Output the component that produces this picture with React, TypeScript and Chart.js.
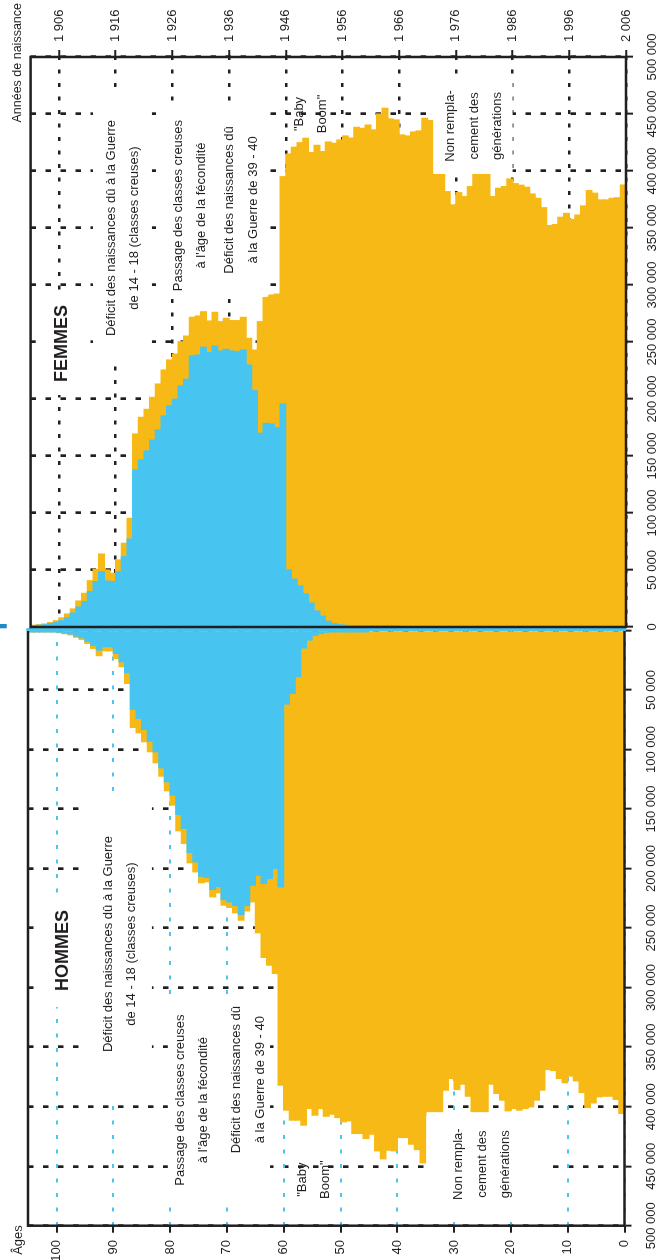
import React, { useEffect, useRef } from 'react';
import { Chart, registerables } from 'chart.js';

Chart.register(...registerables);

// ---------- data ----------
const AGES: number[] = Array.from({ length: 105 }, (_, i) => i);

const HOMMES_TOTAL: number[] = [
  405700, 393900, 391200, 391200, 391700, 396800, 400700, 388100, 378300, 374300,
  379900, 376300, 369600, 368700, 386100, 394500, 400100, 401500, 402900, 401500,
  403500, 394500, 388900, 381100, 407000, 407000, 407000, 391200, 381100, 385600,
  376300, 386100, 407000, 407000, 407000, 447200, 436000, 431500, 425900, 425900,
  437100, 436500, 443800, 437100, 423100, 426700, 422500, 422500, 411900, 412700,
  409100, 406300, 408000, 401500, 407100, 401500, 415500, 411300, 411300, 402900,
  381900, 288100, 281100, 274600, 253900, 227900, 235500, 243300, 237100, 232600,
  230700, 220300, 223700, 211100, 211900, 202700, 195100, 178800, 168200, 146600,
  134600, 122300, 111100, 101800, 93400, 85900, 81400, 44400, 30400, 23400,
  17000, 17000, 21100, 15000, 10800, 7400, 5700, 3600, 2600, 1800,
  1100, 700, 400, 250, 150,
];

const HOMMES_BLEU: number[] = [
  0, 0, 0, 0, 0, 0, 0, 0, 0, 0,
  0, 0, 0, 0, 0, 0, 0, 0, 0, 0,
  0, 0, 0, 0, 0, 0, 0, 0, 0, 0,
  0, 0, 0, 0, 0, 0, 0, 0, 0, 0,
  0, 0, 0, 0, 0, 300, 300, 400, 500, 600,
  800, 1000, 1500, 2500, 4000, 8000, 14700, 38800, 52800, 61800,
  215300, 199800, 208300, 212500, 205500, 213900, 231000, 238500, 231000, 228000,
  226000, 215000, 217500, 207400, 206300, 194300, 186400, 166200, 154500, 138200,
  127000, 115300, 101800, 92900, 83100, 73800, 66200, 35400, 26200, 19200,
  13500, 13600, 16400, 12400, 8900, 6000, 4600, 2900, 2100, 1450,
  900, 580, 330, 200, 120,
];

const FEMMES_TOTAL: number[] = [
  387700, 376500, 376000, 374600, 374600, 380500, 382800, 369300, 361300, 357500,
  362800, 359400, 353000, 352100, 367800, 376000, 379800, 385700, 387500, 388900,
  393000, 386300, 384800, 377500, 400000, 400000, 400000, 386300, 377500, 381000,
  370200, 381900, 400000, 400000, 444200, 446200, 435100, 434200, 430700, 431600,
  444800, 445600, 455000, 450000, 436000, 440300, 437400, 438300, 428900, 430700,
  427200, 424300, 425400, 417000, 422500, 416100, 428700, 424800, 420800, 414900,
  395000, 292000, 291200, 289200, 267800, 242900, 253200, 271600, 268700, 268700,
  270700, 267800, 276000, 268400, 276500, 272800, 271600, 255200, 250200, 239400,
  234200, 225400, 213100, 201400, 190900, 183900, 169300, 95300, 73400, 58800,
  47100, 50000, 64000, 50600, 40600, 29500, 22800, 15800, 11400, 8000,
  5500, 3800, 2600, 2000, 1500,
];

const FEMMES_BLEU: number[] = [
  0, 0, 0, 0, 0, 0, 0, 0, 0, 0,
  0, 0, 0, 0, 0, 0, 0, 0, 0, 0,
  0, 0, 0, 0, 0, 0, 0, 0, 0, 0,
  0, 0, 0, 0, 0, 0, 0, 0, 0, 0,
  300, 300, 300, 300, 300, 500, 600, 800, 1000, 1500,
  2000, 3000, 5000, 9500, 14000, 21000, 29000, 36000, 42000, 50000,
  195600, 174800, 178000, 178600, 169900, 207300, 229800, 243000, 241500, 242100,
  243500, 242100, 246500, 240700, 245400, 238600, 237800, 217300, 211500, 199800,
  193900, 185100, 172800, 164000, 154400, 146500, 137700, 77100, 61700, 48500,
  39800, 40300, 48500, 39800, 31000, 22300, 17500, 12300, 8000, 5500,
  4000, 3000, 2000, 1500, 1000,
];

const POP_MAX = 500000;
const POP_STEP = 50000;
const AGE_MAX = 105;
const AGE_STEP = 10;
const YEAR_AT_AGE_ZERO = 2006;

type Note = { lines: string[]; pop: number; age: number; bold?: boolean; size?: number };
type Mask = { pop: [number, number]; age: [number, number] };

const FEMMES_NOTES: Note[] = [
  { lines: ['FEMMES'], pop: 248700, age: 99.4, bold: true, size: 18 },
  { lines: ['Déficit des naissances dû à la Guerre', 'de 14 - 18 (classes creuses)'], pop: 350000, age: 88.7 },
  { lines: ['Passage des classes creuses', "à l'âge de la fécondité"], pop: 369700, age: 76.9 },
  { lines: ['Déficit des naissances dû', 'à la Guerre de 39 - 40'], pop: 374600, age: 67.8 },
  { lines: ['"Baby', 'Boom"'], pop: 450000, age: 55.6 },
  { lines: ['Non rempla-', 'cement des', 'générations'], pop: 439500, age: 26.8 },
];

const HOMMES_NOTES: Note[] = [
  { lines: ['HOMMES'], pop: 268900, age: 98.9, bold: true, size: 18 },
  { lines: ['Déficit des naissances dû à la Guerre', 'de 14 - 18 (classes creuses)'], pop: 263400, age: 88.8 },
  { lines: ['Passage des classes creuses', "à l'âge de la fécondité"], pop: 394500, age: 76.2 },
  { lines: ['Déficit des naissances dû', 'à la Guerre de 39 - 40'], pop: 377300, age: 66.2 },
  { lines: ['"Baby', 'Boom"'], pop: 461300, age: 54.7 },
  { lines: ['Non rempla-', 'cement des', 'générations'], pop: 448300, age: 25.1 },
];

const FEMMES_MASKS: Mask[] = [
  { pop: [203500, 295600], age: [94.9, 104.1] },
  { pop: [234200, 473700], age: [83.6, 94.0] },
  { pop: [289500, 457900], age: [63.5, 82.7] },
  { pop: [397400, 479800], age: [20.0, 34.0] },
];

const HOMMES_MASKS: Mask[] = [
  { pop: [224000, 316400], age: [94.5, 102.9] },
  { pop: [136500, 394500], age: [83.2, 94.5] },
  { pop: [307500, 482700], age: [62.4, 80.4] },
  { pop: [404600, 491100], age: [13.5, 34.85] },
];

// ---------- styles ----------
const YELLOW = '#F6B915';
const BLUE = '#47C5F0';
const BLUE_GRID = '#4CC3F0';
const DARK = '#231F20';
const FONT = '"Liberation Sans", Arial, Helvetica, sans-serif';
const LINE_GAP = 23.3;

function fmt(n: number): string {
  return String(Math.round(n)).replace(/\B(?=(\d{3})+(?!\d))/g, ' ');
}

function zeroPad(s: any) {
  s.paddingLeft = 0;
  s.paddingRight = 0;
  s.paddingTop = 0;
  s.paddingBottom = 0;
}

function decorPlugin(id: string, notes: Note[], masks: Mask[], side: 'h' | 'f') {
  return {
    id,
    afterDatasetsDraw(chart: any) {
      const ctx: CanvasRenderingContext2D = chart.ctx;
      const xs = chart.scales.x;
      const ys = chart.scales.y;
      ctx.save();
      ctx.fillStyle = '#ffffff';
      for (const m of masks) {
        const x1 = xs.getPixelForValue(m.pop[0]);
        const x2 = xs.getPixelForValue(m.pop[1]);
        const y1 = ys.getPixelForValue(m.age[0]);
        const y2 = ys.getPixelForValue(m.age[1]);
        ctx.fillRect(Math.min(x1, x2), Math.min(y1, y2), Math.abs(x2 - x1), Math.abs(y2 - y1));
      }
      ctx.fillStyle = DARK;
      ctx.textAlign = 'center';
      ctx.textBaseline = 'middle';
      for (const n of notes) {
        const cx = xs.getPixelForValue(n.pop);
        const cy = ys.getPixelForValue(n.age);
        ctx.font = `${n.bold ? 'bold ' : ''}${n.size ?? 13}px ${FONT}`;
        const k = n.lines.length;
        n.lines.forEach((line, i) => ctx.fillText(line, cx, cy + (i - (k - 1) / 2) * LINE_GAP));
      }
      ctx.restore();
    },
    afterDraw(chart: any) {
      const ctx: CanvasRenderingContext2D = chart.ctx;
      const ca = chart.chartArea;
      ctx.save();
      ctx.lineWidth = 2.5;
      ctx.strokeStyle = DARK;
      ctx.lineCap = 'square';
      if (side === 'h') {
        ctx.beginPath();
        ctx.moveTo(ca.right, ca.top);
        ctx.lineTo(ca.left, ca.top);
        ctx.lineTo(ca.left, ca.bottom);
        ctx.lineTo(ca.right, ca.bottom);
        ctx.stroke();
        ctx.strokeStyle = BLUE;
        ctx.lineWidth = 3;
        ctx.lineCap = 'butt';
        ctx.beginPath();
        ctx.moveTo(ca.right + 1, ca.top - 1.5);
        ctx.lineTo(ca.right + 1, ca.bottom + 1.5);
        ctx.stroke();
        ctx.fillStyle = DARK;
        ctx.font = `13px ${FONT}`;
        ctx.textAlign = 'center';
        ctx.textBaseline = 'middle';
        ctx.fillText('Âges', 20, 18);
      } else {
        ctx.strokeRect(ca.left, ca.top, ca.right - ca.left, ca.bottom - ca.top);
        ctx.fillStyle = DARK;
        ctx.font = `12.5px ${FONT}`;
        ctx.textAlign = 'right';
        ctx.textBaseline = 'middle';
        ctx.fillText('Années de naissance', chart.width - 3, 18);
        ctx.fillStyle = '#1E88C8';
        ctx.fillRect(ca.left - 1.3, 0, 4.3, 6.7);
      }
      ctx.restore();
    },
  };
}

function popAxis(reverse: boolean, hideZero: boolean, height: number) {
  return {
    type: 'linear',
    position: 'bottom',
    reverse,
    min: 0,
    max: POP_MAX,
    offset: false,
    afterFit: (s: any) => { s.height = height; zeroPad(s); },
    ticks: {
      stepSize: POP_STEP,
      autoSkip: false,
      maxRotation: 0,
      minRotation: 0,
      padding: 12,
      color: DARK,
      font: { family: FONT, size: 13 },
      callback: (v: any) => (hideZero && Number(v) === 0 ? '' : fmt(Number(v))),
    },
    grid: {
      color: DARK,
      lineWidth: 2.7,
      offset: false,
      drawTicks: true,
      tickLength: 7,
      tickColor: DARK,
      tickWidth: 2,
      tickBorderDash: [],
    },
    border: { display: false, dash: [5.5, 9.5] },
  };
}

function ageAxis(position: 'left' | 'right', width: number, gridColor: string, dash: number[], lw: number, label: (v: number) => string, padding: number) {
  return {
    type: 'linear',
    position,
    min: 0,
    max: AGE_MAX,
    offset: false,
    afterFit: (s: any) => { s.width = width; zeroPad(s); },
    afterBuildTicks: (s: any) => { s.ticks = s.ticks.filter((t: any) => t.value % AGE_STEP === 0); },
    ticks: {
      stepSize: AGE_STEP,
      includeBounds: false,
      autoSkip: false,
      padding,
      color: DARK,
      font: { family: FONT, size: 13 },
      callback: (v: any) => label(Number(v)),
    },
    grid: {
      color: gridColor,
      lineWidth: lw,
      offset: false,
      drawTicks: true,
      tickLength: 7,
      tickColor: DARK,
      tickWidth: 2,
      tickBorderDash: [],
    },
    border: { display: false, dash },
  };
}

function datasets(total: number[], bleu: number[]) {
  const common = { grouped: false, barPercentage: 1, categoryPercentage: 1, borderWidth: 0, inflateAmount: 0.6 };
  return [
    { label: 'bleu', data: AGES.map((a, i) => ({ x: bleu[i], y: a + 0.5 })), backgroundColor: BLUE, ...common },
    { label: 'total', data: AGES.map((a, i) => ({ x: total[i], y: a + 0.5 })), backgroundColor: YELLOW, ...common },
  ];
}

export default function App() {
  const hRef = useRef<HTMLCanvasElement | null>(null);
  const fRef = useRef<HTMLCanvasElement | null>(null);

  useEffect(() => {
    if (!hRef.current || !fRef.current) return;
    const base = {
      indexAxis: 'y',
      responsive: false,
      maintainAspectRatio: false,
      animation: false,
      devicePixelRatio: 1,
      events: [],
      plugins: { legend: { display: false }, tooltip: { enabled: false } },
    };
    const hommes = new Chart(hRef.current, {
      type: 'bar',
      data: { datasets: datasets(HOMMES_TOTAL, HOMMES_BLEU) as any },
      options: {
        ...base,
        layout: { padding: { left: 0, top: 28.1, right: 2.5, bottom: 0 }, autoPadding: false },
        scales: {
          x: popAxis(true, true, 35.5),
          y: ageAxis('left', 34.3, BLUE_GRID, [4, 10.5], 2, (v) => String(v), 7.3),
        },
      } as any,
      plugins: [decorPlugin('decorH', HOMMES_NOTES, HOMMES_MASKS, 'h')],
    });
    const femmes = new Chart(fRef.current, {
      type: 'bar',
      data: { datasets: datasets(FEMMES_TOTAL, FEMMES_BLEU) as any },
      options: {
        ...base,
        layout: { padding: { left: 8, top: 30.6, right: 0, bottom: 0 }, autoPadding: false },
        scales: {
          x: popAxis(false, false, 34),
          y: ageAxis('right', 57, DARK, [4, 9.5], 2.5, (v) => fmt(YEAR_AT_AGE_ZERO - v), 8),
        },
      } as any,
      plugins: [decorPlugin('decorF', FEMMES_NOTES, FEMMES_MASKS, 'f')],
    });
    return () => {
      hommes.destroy();
      femmes.destroy();
    };
  }, []);

  return (
    <div
      style={{
        position: 'fixed',
        left: 0,
        top: 0,
        width: 1260,
        height: 660,
        background: '#ffffff',
        transformOrigin: '0 0',
        transform: 'translateY(1260px) rotate(-90deg)',
      }}
    >
      <canvas ref={hRef} width={632} height={660} style={{ position: 'absolute', left: 0, top: 0, width: 632, height: 660 }} />
      <canvas ref={fRef} width={635} height={660} style={{ position: 'absolute', left: 625, top: 0, width: 635, height: 660 }} />
    </div>
  );
}
